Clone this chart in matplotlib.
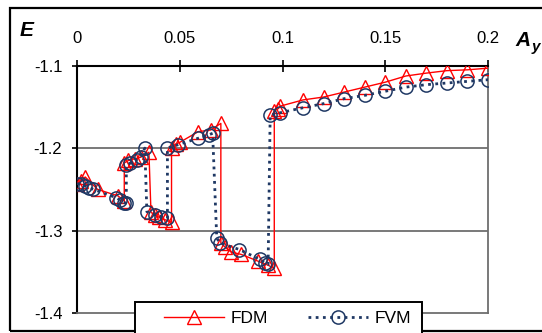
import matplotlib
matplotlib.use("Agg")
import matplotlib.pyplot as plt
from matplotlib.patches import Rectangle

plt.rcParams['font.family'] = ['Liberation Sans', 'DejaVu Sans']

# FDM series (red triangles, solid line)
fdm_x = [0.000, 0.002, 0.004, 0.010, 0.020, 0.023,
         0.023, 0.025, 0.028, 0.031, 0.035,
         0.036, 0.038, 0.040, 0.043, 0.046,
         0.046, 0.048, 0.050, 0.059, 0.065, 0.070,
         0.070, 0.072, 0.075, 0.080, 0.088, 0.093, 0.096,
         0.096, 0.098, 0.099, 0.110, 0.120, 0.130, 0.140, 0.150,
         0.160, 0.170, 0.180, 0.190, 0.200]
fdm_e = [-1.243, -1.240, -1.235, -1.250, -1.258, -1.264,
         -1.218, -1.215, -1.213, -1.211, -1.205,
         -1.278, -1.281, -1.284, -1.287, -1.290,
         -1.200, -1.195, -1.193, -1.180, -1.178, -1.170,
         -1.315, -1.320, -1.326, -1.329, -1.337, -1.342, -1.346,
         -1.155, -1.152, -1.149, -1.1415, -1.138, -1.132, -1.126, -1.120,
         -1.1125, -1.109, -1.106, -1.105, -1.103]

# FVM series (navy circles, dotted line)
fvm_x = [0.000, 0.002, 0.004, 0.006, 0.008, 0.019, 0.021, 0.023, 0.024,
         0.024, 0.026, 0.029, 0.031, 0.033,
         0.034, 0.038, 0.041, 0.044,
         0.044, 0.049, 0.059, 0.064, 0.066,
         0.068, 0.0695, 0.079, 0.089, 0.0915, 0.093,
         0.094, 0.099, 0.110, 0.120, 0.130, 0.140, 0.150,
         0.160, 0.170, 0.180, 0.190, 0.200]
fvm_e = [-1.243, -1.244, -1.246, -1.248, -1.250, -1.260, -1.263, -1.266, -1.267,
         -1.221, -1.218, -1.214, -1.211, -1.200,
         -1.277, -1.281, -1.283, -1.285,
         -1.200, -1.196, -1.188, -1.184, -1.182,
         -1.309, -1.315, -1.323, -1.335, -1.339, -1.341,
         -1.160, -1.157, -1.151, -1.146, -1.140, -1.136, -1.131,
         -1.126, -1.123, -1.121, -1.119, -1.117]

xticks = [0, 0.05, 0.1, 0.15, 0.2]
xtick_labels = ['0', '0.05', '0.1', '0.15', '0.2']
yticks = [-1.1, -1.2, -1.3, -1.4]
ytick_labels = ['-1.1', '-1.2', '-1.3', '-1.4']

W, H = 542, 333
fig = plt.figure(figsize=(W / 100, H / 100), dpi=100)

def fx(px):
    return px / W

def fy(py):
    return 1 - py / H

ax = fig.add_axes([fx(77), fy(313), fx(488) - fx(77), fy(65.7) - fy(313)])

red = '#FF0000'
navy = '#1F3864'
grid_c = '#6E6E6E'

ax.plot(fdm_x, fdm_e, color=red, lw=1.0, marker='^', ms=9.5,
        mfc='none', mec=red, mew=1.0, label='FDM', zorder=3)
ax.plot(fvm_x, fvm_e, color=navy, lw=2.0, linestyle=(0, (1.0, 1.6)),
        marker='o', ms=9.5, mfc='none', mec=navy, mew=1.1, label='FVM', zorder=4)

ax.set_xlim(0, 0.2)
ax.set_ylim(-1.4, -1.1)
for y in [-1.2, -1.3]:
    ax.axhline(y, color=grid_c, lw=1.3, zorder=1)

ax.xaxis.tick_top()
ax.set_xticks(xticks)
ax.set_xticklabels(xtick_labels)
ax.set_yticks(yticks)
ax.set_yticklabels(ytick_labels)
ax.tick_params(axis='x', direction='inout', length=8.5, width=1.2, pad=10,
               labelsize=12, colors='black')
ax.tick_params(axis='y', direction='out', length=3.6, width=1.2, pad=7,
               labelsize=12)

ax.spines['left'].set_color('black')
ax.spines['left'].set_linewidth(1.5)
ax.spines['top'].set_color('black')
ax.spines['top'].set_linewidth(1.5)
ax.spines['right'].set_color(grid_c)
ax.spines['right'].set_linewidth(1.3)
ax.spines['bottom'].set_color(grid_c)
ax.spines['bottom'].set_linewidth(1.3)

# outer chart frame
fig.patches.append(Rectangle((fx(10), fy(331)), 1.1, fy(8) - fy(331),
                             transform=fig.transFigure, fill=False,
                             edgecolor='black', lw=1.6, zorder=0))

fig.text(fx(20), fy(30), 'E', fontsize=15, fontweight='bold', fontstyle='italic',
         ha='left', va='center')
fig.text(fx(515), fy(40), 'A', fontsize=15, fontweight='bold', fontstyle='italic',
         ha='left', va='center')
fig.text(fx(532), fy(47), 'y', fontsize=11, fontweight='bold', fontstyle='italic',
         ha='left', va='center')

# legend box
fig.patches.append(Rectangle((fx(135), fy(340)), fx(422) - fx(135), fy(302) - fy(340),
                             transform=fig.transFigure, facecolor='white',
                             edgecolor='black', lw=1.4, zorder=5))
leg = fig.legend(loc='center left', bbox_to_anchor=(fx(150), fy(318)),
                 ncol=2, frameon=False, fontsize=12.5, handlelength=3.45,
                 handletextpad=0.4, columnspacing=2.3, borderpad=0.3)
leg.set_zorder(6)

fig.savefig('out.png', dpi=100)
